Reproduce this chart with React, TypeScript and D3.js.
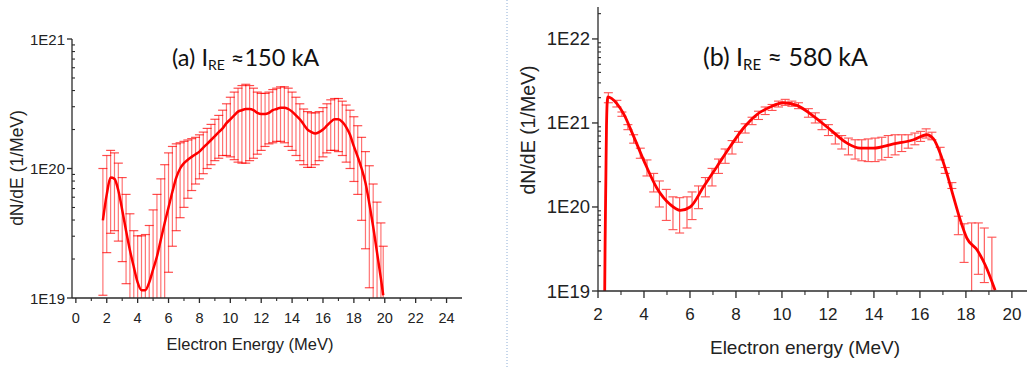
import React from 'react';
import * as d3 from 'd3';

// ---------- Panel (a): I_RE ≈ 150 kA ----------
const leftEnergy = [1.75, 2.0, 2.25, 2.5, 2.75, 3.0, 3.25, 3.5, 3.75, 4.0, 4.25, 4.5, 4.75, 5.0, 5.25, 5.5, 5.75, 6.0, 6.25, 6.5, 6.75, 7.0, 7.25, 7.5, 7.75, 8.0, 8.25, 8.5, 8.75, 9.0, 9.25, 9.5, 9.75, 10.0, 10.25, 10.5, 10.75, 11.0, 11.25, 11.5, 11.75, 12.0, 12.25, 12.5, 12.75, 13.0, 13.25, 13.5, 13.75, 14.0, 14.25, 14.5, 14.75, 15.0, 15.25, 15.5, 15.75, 16.0, 16.25, 16.5, 16.75, 17.0, 17.25, 17.5, 17.75, 18.0, 18.25, 18.5, 18.75, 19.0, 19.25, 19.5, 19.75, 19.9];
const leftMean = [3.98e19, 6.31e19, 8.51e19, 8.32e19, 6.76e19, 4.79e19, 3.31e19, 2.34e19, 1.74e19, 1.32e19, 1.15e19, 1.15e19, 1.32e19, 1.66e19, 2.09e19, 2.82e19, 3.80e19, 5.01e19, 6.61e19, 8.51e19, 1.00e20, 1.10e20, 1.17e20, 1.23e20, 1.29e20, 1.35e20, 1.45e20, 1.55e20, 1.66e20, 1.78e20, 1.91e20, 2.04e20, 2.24e20, 2.40e20, 2.57e20, 2.75e20, 2.82e20, 2.88e20, 2.88e20, 2.82e20, 2.69e20, 2.63e20, 2.63e20, 2.69e20, 2.82e20, 2.88e20, 2.95e20, 2.95e20, 2.88e20, 2.75e20, 2.57e20, 2.40e20, 2.19e20, 2.00e20, 1.91e20, 1.86e20, 1.91e20, 2.00e20, 2.14e20, 2.29e20, 2.40e20, 2.40e20, 2.29e20, 2.09e20, 1.82e20, 1.48e20, 1.23e20, 1.00e20, 7.76e19, 5.37e19, 3.55e19, 2.24e19, 1.41e19, 1.05e19];
const leftUpper = [1.00e20, 1.26e20, 1.38e20, 1.32e20, 1.10e20, 8.51e19, 6.31e19, 4.47e19, 3.31e19, 3.02e19, 3.02e19, 3.09e19, 3.63e19, 4.79e19, 6.31e19, 8.32e19, 1.07e20, 1.32e20, 1.48e20, 1.55e20, 1.58e20, 1.62e20, 1.66e20, 1.70e20, 1.74e20, 1.82e20, 1.91e20, 2.04e20, 2.19e20, 2.40e20, 2.57e20, 2.82e20, 3.16e20, 3.55e20, 3.89e20, 4.17e20, 4.37e20, 4.47e20, 4.37e20, 4.17e20, 3.89e20, 3.80e20, 3.80e20, 3.89e20, 4.07e20, 4.17e20, 4.27e20, 4.27e20, 4.17e20, 3.89e20, 3.55e20, 3.16e20, 2.88e20, 2.75e20, 2.69e20, 2.69e20, 2.75e20, 2.95e20, 3.16e20, 3.39e20, 3.47e20, 3.47e20, 3.31e20, 3.09e20, 2.82e20, 2.51e20, 2.14e20, 1.74e20, 1.35e20, 1.05e20, 7.59e19, 5.50e19, 3.80e19, 2.51e19];
const leftLower = [1.05e19, 2.24e19, 3.16e19, 3.31e19, 2.75e19, 1.91e19, 1.29e19, 8e18, 8e18, 8e18, 8e18, 8e18, 8e18, 8e18, 8e18, 8e18, 8e18, 1.58e19, 2.51e19, 3.31e19, 4.17e19, 5.01e19, 5.89e19, 6.76e19, 7.59e19, 8.32e19, 9.12e19, 1.00e20, 1.07e20, 1.15e20, 1.20e20, 1.26e20, 1.26e20, 1.23e20, 1.17e20, 1.12e20, 1.10e20, 1.10e20, 1.15e20, 1.20e20, 1.29e20, 1.38e20, 1.48e20, 1.55e20, 1.58e20, 1.62e20, 1.62e20, 1.58e20, 1.48e20, 1.38e20, 1.26e20, 1.15e20, 1.07e20, 1.02e20, 1.02e20, 1.07e20, 1.15e20, 1.23e20, 1.32e20, 1.38e20, 1.38e20, 1.35e20, 1.26e20, 1.12e20, 1.00e20, 7.94e19, 6.31e19, 3.98e19, 2.40e19, 1.20e19, 8e18, 8e18, 8e18, 8e18];

// ---------- Panel (b): I_RE ≈ 580 kA ----------
const rightCurveEnergy = [2.29, 2.31, 2.34, 2.37, 2.42, 2.82, 3.11, 3.55, 3.98, 4.57, 5.14, 5.58, 6.01, 6.59, 7.17, 7.75, 8.33, 8.91, 9.49, 10.07, 10.65, 11.38, 12.10, 12.83, 13.40, 13.98, 14.85, 15.72, 16.30, 16.59, 16.88, 17.17, 17.46, 17.75, 18.04, 18.48, 18.84, 19.27];
const rightCurve = [8.91e18, 3.98e19, 2.00e20, 9.33e20, 2.04e21, 1.70e21, 1.29e21, 6.92e20, 3.63e20, 1.66e20, 1.07e20, 9.12e19, 1.00e20, 1.74e20, 3.02e20, 5.25e20, 8.71e20, 1.26e21, 1.55e21, 1.74e21, 1.62e21, 1.20e21, 8.32e20, 5.75e20, 5.01e20, 5.01e20, 5.62e20, 6.31e20, 7.24e20, 6.46e20, 4.37e20, 2.51e20, 1.32e20, 7.08e19, 4.27e19, 3.09e19, 2.04e19, 1.02e19];
const rightBarEnergy = [2.45, 2.82, 3.04, 3.30, 3.55, 3.84, 4.13, 4.42, 4.67, 4.97, 5.26, 5.55, 5.87, 6.09, 6.37, 6.67, 6.96, 7.24, 7.53, 7.83, 8.11, 8.40, 8.70, 8.98, 9.27, 9.57, 9.85, 10.14, 10.43, 10.72, 11.15, 11.45, 11.74, 12.02, 12.32, 12.60, 12.89, 13.18, 13.47, 13.75, 14.05, 14.34, 14.62, 14.92, 15.21, 15.49, 15.78, 16.03, 16.27, 16.52, 16.88, 17.10, 17.39, 17.67, 17.92, 18.25, 18.54, 18.80, 19.13];
const rightBarUpper = [2.29e21, 1.86e21, 1.35e21, 9.55e20, 7.24e20, 5.01e20, 3.63e20, 2.51e20, 2.04e20, 1.62e20, 1.32e20, 1.29e20, 1.32e20, 1.51e20, 1.78e20, 2.24e20, 2.88e20, 3.72e20, 4.90e20, 6.17e20, 7.94e20, 9.77e20, 1.17e21, 1.38e21, 1.55e21, 1.66e21, 1.82e21, 1.91e21, 1.82e21, 1.74e21, 1.48e21, 1.32e21, 1.10e21, 9.55e20, 7.59e20, 7.08e20, 6.61e20, 6.31e20, 6.31e20, 6.46e20, 6.61e20, 6.76e20, 7.08e20, 7.24e20, 7.24e20, 7.24e20, 7.59e20, 7.94e20, 8.51e20, 7.76e20, 5.13e20, 2.95e20, 1.95e20, 7.76e19, 6.31e19, 6.46e19, 6.46e19, 5.62e19, 4.37e19];
const rightBarLower = [1.74e21, 1.55e21, 1.20e21, 8.32e20, 5.75e20, 3.80e20, 2.34e20, 1.51e20, 1.00e20, 6.92e19, 5.37e19, 4.90e19, 5.62e19, 7.08e19, 9.55e19, 1.32e20, 1.78e20, 2.51e20, 3.31e20, 4.27e20, 5.89e20, 7.59e20, 9.55e20, 1.10e21, 1.26e21, 1.41e21, 1.55e21, 1.62e21, 1.58e21, 1.48e21, 1.17e21, 1.00e21, 8.32e20, 7.08e20, 5.62e20, 4.90e20, 4.17e20, 3.72e20, 3.55e20, 3.47e20, 3.47e20, 3.63e20, 3.89e20, 4.17e20, 4.57e20, 5.01e20, 5.50e20, 6.03e20, 6.61e20, 6.31e20, 3.63e20, 2.51e20, 1.66e20, 4.68e19, 2.19e19, 8e18, 1.58e19, 1.26e19, 8e18];

// ---------- Axis ticks ----------
const leftXTicks = [0, 2, 4, 6, 8, 10, 12, 14, 16, 18, 20, 22, 24];
const leftXMinor = [1, 3, 5, 7, 9, 11, 13, 15, 17, 19, 21, 23];
const leftYTicks = [1e19, 1e20, 1e21];
const leftYLabels = ['1E19', '1E20', '1E21'];
const rightXTicks = [2, 4, 6, 8, 10, 12, 14, 16, 18, 20];
const rightXMinor = [3, 5, 7, 9, 11, 13, 15, 17, 19];
const rightYTicks = [1e19, 1e20, 1e21, 1e22];
const rightYLabels = ['1E19', '1E20', '1E21', '1E22'];

const AXIS = '#2b2b2b';
const SANS = '"Liberation Sans", Arial, sans-serif';
const TITLE = 'Lato, "Open Sans", sans-serif';

function logMinors(scale: d3.ScaleLogarithmic<number, number>) {
  const [lo, hi] = scale.domain();
  const out: number[] = [];
  for (let d = Math.floor(Math.log10(lo)); d <= Math.ceil(Math.log10(hi)); d++) {
    for (let k = 2; k <= 9; k++) {
      const v = k * Math.pow(10, d);
      if (v > lo && v < hi) out.push(v);
    }
  }
  return out;
}

export default function App() {
  const W = 1027, H = 369;

  // Panel (a)
  const lx = d3.scaleLinear().domain([-0.25, 25]).range([72, 462]);
  const ly = d3.scaleLog().domain([1e19, 1e21]).range([298, 39]);
  // Panel (b)
  const rx = d3.scaleLinear().domain([2, 20.7]).range([598, 1028]);
  const ry = d3.scaleLog().domain([1e19, 2.4e22]).range([291, 7]);

  const leftLine = d3.line<number>()
    .x((_, i) => lx(leftEnergy[i]))
    .y((d) => ly(d))
    .curve(d3.curveMonotoneX);
  const rightLine = d3.line<number>()
    .x((_, i) => rx(rightCurveEnergy[i]))
    .y((d) => ry(d))
    .curve(d3.curveMonotoneX);

  const lBottom = ly.range()[0];
  const rBottom = ry.range()[0];

  return (
    <div style={{ position: 'absolute', left: 0, top: 0, width: W, height: H, background: '#fff' }}>
      <svg width={W} height={H} style={{ display: 'block' }}>
        <defs>
          <clipPath id="clipL"><rect x={lx.range()[0]} y={0} width={lx.range()[1] - lx.range()[0]} height={lBottom} /></clipPath>
          <clipPath id="clipR"><rect x={rx.range()[0]} y={0} width={rx.range()[1] - rx.range()[0]} height={rBottom} /></clipPath>
        </defs>

        {/* divider */}
        <line x1={507} x2={507} y1={0} y2={H} stroke="#8eaed6" strokeWidth={1} strokeDasharray="1 2" />

        {/* ===== Panel (a) ===== */}
        <g clipPath="url(#clipL)">
          {leftEnergy.map((e, i) => {
            const x = lx(e);
            const yT = ly(leftUpper[i]);
            const yB = ly(Math.max(leftLower[i], 1e18));
            return (
              <g key={i}>
                <line x1={x} x2={x} y1={yT} y2={yB} stroke="rgba(255,0,0,0.55)" strokeWidth={1.2} />
                <line x1={x - 4.5} x2={x + 4.5} y1={yT} y2={yT} stroke="rgba(255,0,0,0.7)" strokeWidth={1.2} />
                <line x1={x - 4.5} x2={x + 4.5} y1={yB} y2={yB} stroke="rgba(255,0,0,0.7)" strokeWidth={1.2} />
              </g>
            );
          })}
          <path d={leftLine(leftMean) || ''} fill="none" stroke="#ff0000" strokeWidth={2.5} />
        </g>

        {/* left axes */}
        <line x1={lx.range()[0]} x2={lx.range()[0]} y1={ly(1e21)} y2={lBottom} stroke={AXIS} strokeWidth={1.3} />
        <line x1={lx.range()[0]} x2={lx.range()[1]} y1={lBottom} y2={lBottom} stroke={AXIS} strokeWidth={1.3} />
        {leftYTicks.map((t, i) => (
          <g key={'ly' + i}>
            <line x1={lx.range()[0] - 5} x2={lx.range()[0]} y1={ly(t)} y2={ly(t)} stroke={AXIS} strokeWidth={1.3} />
            <text x={lx.range()[0] - 7} y={ly(t)} textAnchor="end" dominantBaseline="central" fontFamily={SANS} fontSize={15} fill="#222">{leftYLabels[i]}</text>
          </g>
        ))}
        {logMinors(ly).map((t, i) => (
          <line key={'lym' + i} x1={lx.range()[0]} x2={lx.range()[0] + 3} y1={ly(t)} y2={ly(t)} stroke={AXIS} strokeWidth={1.1} />
        ))}
        {leftXTicks.map((t) => (
          <g key={'lx' + t}>
            <line x1={lx(t)} x2={lx(t)} y1={lBottom} y2={lBottom + 5} stroke={AXIS} strokeWidth={1.3} />
            <text x={lx(t)} y={323} textAnchor="middle" fontFamily={SANS} fontSize={14.5} fill="#222">{t}</text>
          </g>
        ))}
        {leftXMinor.map((t) => (
          <line key={'lxm' + t} x1={lx(t)} x2={lx(t)} y1={lBottom} y2={lBottom + 3} stroke={AXIS} strokeWidth={1.1} />
        ))}
        <text transform="translate(17,168) rotate(-90)" textAnchor="middle" dominantBaseline="central" fontFamily={SANS} fontSize={17.5} fill="#222">dN/dE (1/MeV)</text>
        <text x={250} y={350} textAnchor="middle" fontFamily={SANS} fontSize={16.5} fill="#222">Electron Energy (MeV)</text>
        <text x={172} y={66} fontFamily={TITLE} fontSize={23.5} fill="#111">
          (a) I<tspan fontSize={14} dy={4}>RE</tspan><tspan dy={-4}> ≈150 kA</tspan>
        </text>

        {/* ===== Panel (b) ===== */}
        <g clipPath="url(#clipR)">
          {rightBarEnergy.map((e, i) => {
            const x = rx(e);
            const yT = ry(rightBarUpper[i]);
            const yB = ry(Math.max(rightBarLower[i], 1e18));
            return (
              <g key={i}>
                <line x1={x} x2={x} y1={yT} y2={yB} stroke="#ff5050" strokeWidth={1.1} />
                <line x1={x - 4.5} x2={x + 4.5} y1={yT} y2={yT} stroke="#ff5050" strokeWidth={1.1} />
                <line x1={x - 4.5} x2={x + 4.5} y1={yB} y2={yB} stroke="#ff5050" strokeWidth={1.1} />
              </g>
            );
          })}
          <path d={rightLine(rightCurve) || ''} fill="none" stroke="#ff0000" strokeWidth={2.8} />
        </g>

        {/* right axes */}
        <line x1={rx.range()[0]} x2={rx.range()[0]} y1={ry.range()[1]} y2={rBottom} stroke={AXIS} strokeWidth={1.3} />
        <line x1={rx.range()[0]} x2={rx.range()[1]} y1={rBottom} y2={rBottom} stroke={AXIS} strokeWidth={1.3} />
        {rightYTicks.map((t, i) => (
          <g key={'ry' + i}>
            <line x1={rx.range()[0] - 6} x2={rx.range()[0]} y1={ry(t)} y2={ry(t)} stroke={AXIS} strokeWidth={1.3} />
            <text x={rx.range()[0] - 8} y={ry(t)} textAnchor="end" dominantBaseline="central" fontFamily={SANS} fontSize={18.5} fill="#222">{rightYLabels[i]}</text>
          </g>
        ))}
        {logMinors(ry).map((t, i) => (
          <line key={'rym' + i} x1={rx.range()[0]} x2={rx.range()[0] + 3} y1={ry(t)} y2={ry(t)} stroke={AXIS} strokeWidth={1.1} />
        ))}
        {rightXTicks.map((t) => (
          <g key={'rx' + t}>
            <line x1={rx(t)} x2={rx(t)} y1={rBottom} y2={rBottom + 7} stroke={AXIS} strokeWidth={1.3} />
            <text x={rx(t)} y={320} textAnchor="middle" fontFamily={SANS} fontSize={17} fill="#222">{t}</text>
          </g>
        ))}
        {rightXMinor.map((t) => (
          <line key={'rxm' + t} x1={rx(t)} x2={rx(t)} y1={rBottom} y2={rBottom + 4} stroke={AXIS} strokeWidth={1.1} />
        ))}
        <text transform="translate(528,130) rotate(-90)" textAnchor="middle" dominantBaseline="central" fontFamily={SANS} fontSize={19.5} fill="#222">dN/dE (1/MeV)</text>
        <text x={805} y={354} textAnchor="middle" fontFamily={SANS} fontSize={19} fill="#222">Electron energy (MeV)</text>
        <text x={703} y={66} fontFamily={TITLE} fontSize={25} fill="#111">
          (b) I<tspan fontSize={15} dy={4}>RE</tspan><tspan dy={-4}> ≈ 580 kA</tspan>
        </text>
      </svg>
    </div>
  );
}
